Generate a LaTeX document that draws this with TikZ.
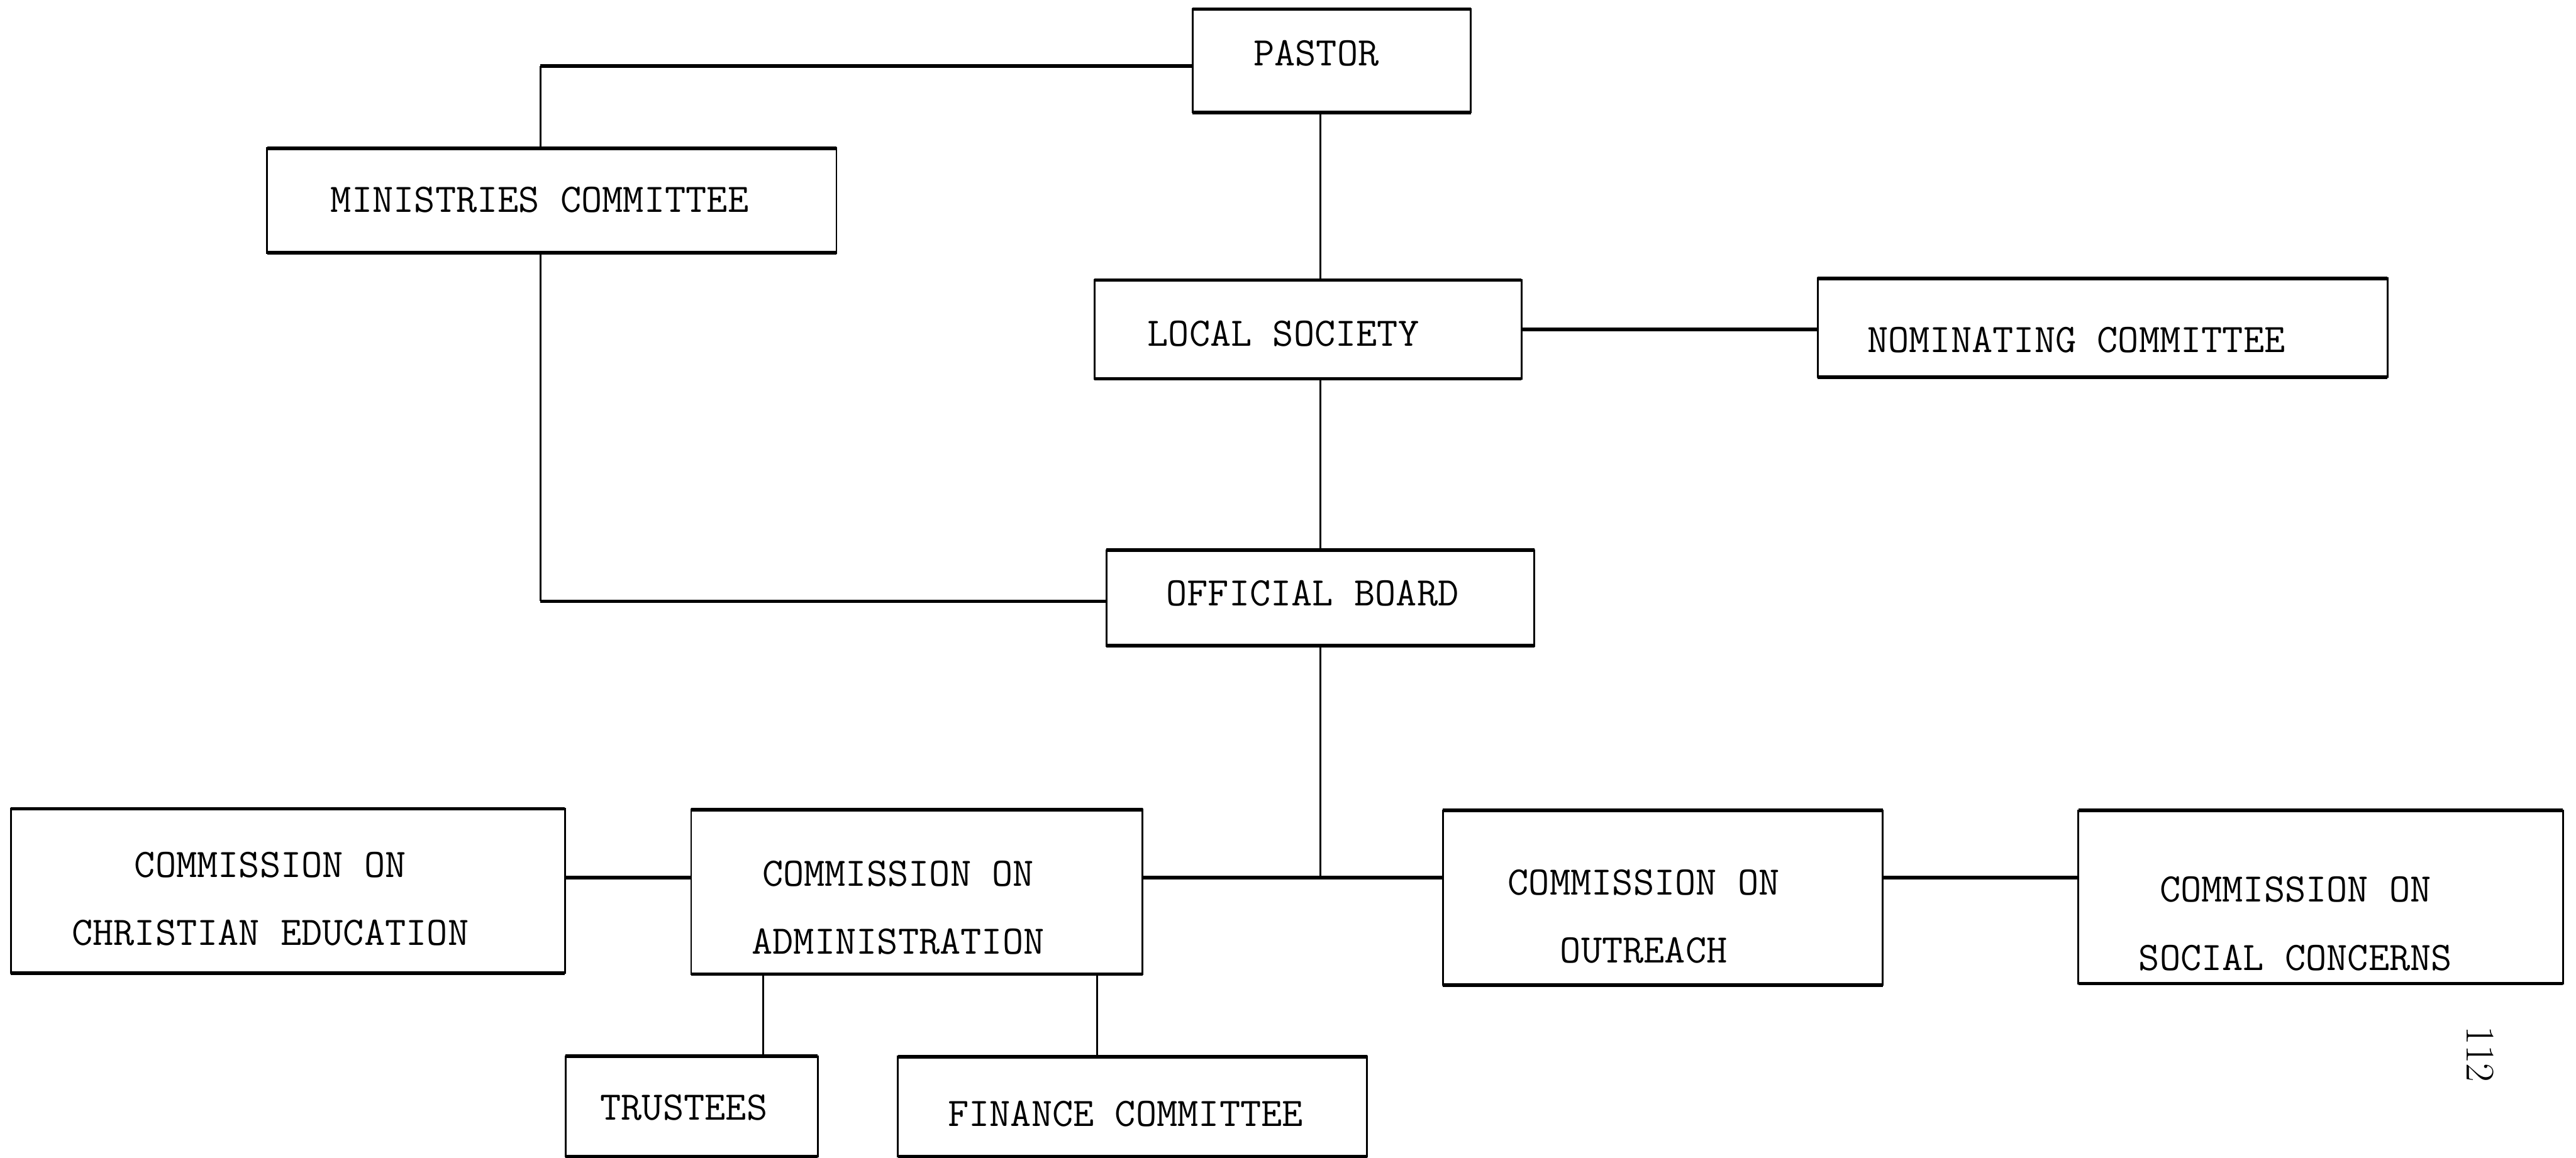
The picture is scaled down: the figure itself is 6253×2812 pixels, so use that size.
\documentclass[tikz,border=0pt]{standalone}
\usepackage{fontspec}
\begin{document}
\begin{tikzpicture}[x=0.01cm,y=-0.01cm,
  box/.style={draw, line width=1.2pt, inner sep=0pt, outer sep=0pt},
  hedge/.style={line width=2.4pt},
  vlink/.style={line width=1.2pt},
  hlink/.style={line width=2.4pt},
  lbl/.style={font=\fontsize{28}{47}\selectfont\ttfamily, align=center, inner sep=0pt},
]
\useasboundingbox (0,0) rectangle (6253,2812);

% boxes
\node[box, minimum width=6.75cm,  minimum height=2.51cm] (pastor)   at (3232.5,147.5) {};
\node[box, minimum width=13.81cm, minimum height=2.54cm] (min)      at (1339.5,487)   {};
\node[box, minimum width=10.36cm, minimum height=2.40cm] (local)    at (3175,800)     {};
\node[box, minimum width=13.82cm, minimum height=2.40cm] (nom)      at (5104,796)     {};
\node[box, minimum width=10.38cm, minimum height=2.32cm] (official) at (3205,1452)    {};
\node[box, minimum width=13.44cm, minimum height=3.99cm] (ce)       at (699,2163.5)   {};
\node[box, minimum width=10.95cm, minimum height=3.99cm] (admin)    at (2225.5,2165.5){};
\node[box, minimum width=10.67cm, minimum height=4.24cm] (outreach) at (4036.5,2180)  {};
\node[box, minimum width=11.76cm, minimum height=4.20cm] (social)   at (5633,2178)    {};
\node[box, minimum width=6.12cm,  minimum height=2.43cm] (trustees) at (1679,2686.5)  {};
\node[box, minimum width=11.38cm, minimum height=2.42cm] (finance)  at (2749,2687)    {};

% heavier top and bottom rules of each box
\foreach \n in {pastor,min,local,nom,official,ce,admin,outreach,social,trustees,finance}
  \draw[hedge] (\n.north west) -- (\n.north east) (\n.south west) -- (\n.south east);

% box texts
\node[lbl] (pastor-t)   at (3195,129)  {PASTOR};
\node[lbl] (min-t)      at (1310,485)  {MINISTRIES COMMITTEE};
\node[lbl] (local-t)    at (3115,810)  {LOCAL SOCIETY};
\node[lbl] (nom-t)      at (5040,825)  {NOMINATING COMMITTEE};
\node[lbl] (official-t) at (3186,1440) {OFFICIAL BOARD};
\node[lbl] (ce-t)       at (656,2183)  {COMMISSION ON\\CHRISTIAN EDUCATION};
\node[lbl] (admin-t)    at (2180,2204) {COMMISSION ON\\ADMINISTRATION};
\node[lbl] (outreach-t) at (3990,2226) {COMMISSION ON\\OUTREACH};
\node[lbl] (social-t)   at (5572,2243) {COMMISSION ON\\SOCIAL CONCERNS};
\node[lbl] (trustees-t) at (1660,2690) {TRUSTEES};
\node[lbl] (finance-t)  at (2732,2705) {FINANCE COMMITTEE};

% page number
\node[font=\fontsize{28}{34}\selectfont\rmfamily, rotate=-90, inner sep=0pt] (page) at (6020,2560) {112};

% junction points
\coordinate (jm)   at (1312,160);
\coordinate (jo)   at (1312,1460);
\coordinate (xv)   at (3205,0);
\coordinate (bus)  at (3205,2131);
\coordinate (xt)   at (1853,0);
\coordinate (xf)   at (2663,0);

% connectors
\draw[hlink] (pastor.west |- jm) -- (jm);
\draw[vlink] (jm) -- (jm |- min.north);
\draw[vlink] (pastor.south -| xv) -- (local.north -| xv);
\draw[hlink] (local.east) -- (nom.west |- local.east);
\draw[vlink] (local.south -| xv) -- (official.north -| xv);
\draw[vlink] (min.south -| jo) -- (jo);
\draw[hlink] (jo) -- (official.west |- jo);
\draw[vlink] (official.south -| xv) -- (bus);
\draw[hlink] (admin.east |- bus) -- (outreach.west |- bus);
\draw[hlink] (ce.east |- bus) -- (admin.west |- bus);
\draw[hlink] (outreach.east |- bus) -- (social.west |- bus);
\draw[vlink] (admin.south -| xt) -- (trustees.north -| xt);
\draw[vlink] (admin.south -| xf) -- (finance.north -| xf);
\end{tikzpicture}
\end{document}
